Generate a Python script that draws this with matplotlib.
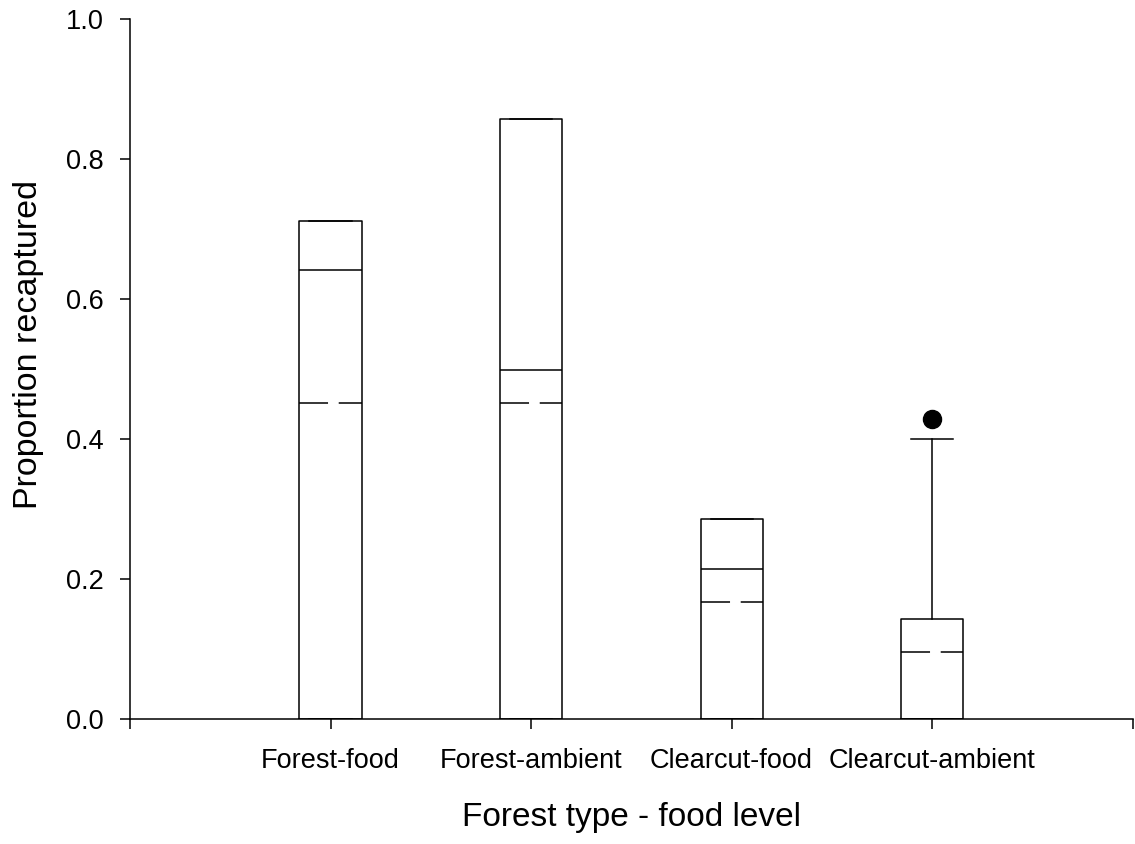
import matplotlib
matplotlib.use('Agg')
import matplotlib.pyplot as plt

plt.rcParams['font.family'] = ['Liberation Sans', 'DejaVu Sans']

groups = ['Forest-food', 'Forest-ambient', 'Clearcut-food', 'Clearcut-ambient']
q1 = [0.0, 0.0, 0.0, 0.0]
q3 = [0.712, 0.857, 0.286, 0.143]
medians = [0.642, 0.498, 0.214, 0.0]
means = [0.452, 0.452, 0.167, 0.096]
whisk_lo = [0.0, 0.0, 0.0, 0.0]
whisk_hi = [0.712, 0.857, 0.286, 0.40]
outliers = [[], [], [], [0.428]]

stats = []
for i, g in enumerate(groups):
    stats.append(dict(label=g, q1=q1[i], q3=q3[i], med=medians[i], mean=means[i],
                      whislo=whisk_lo[i], whishi=whisk_hi[i], fliers=outliers[i]))

fig = plt.figure(figsize=(11.35, 8.44), dpi=100)
ax = fig.add_axes([0.1145, 0.148, 0.8835, 0.8295])

lw = 1.1
ax.bxp(stats, positions=[1, 2, 3, 4], widths=0.31, capwidths=0.21,
       showmeans=True, meanline=True, showfliers=True,
       boxprops=dict(color='black', linewidth=lw),
       medianprops=dict(color='black', linewidth=lw),
       meanprops=dict(color='black', linewidth=lw, linestyle=(0, (19, 7))),
       whiskerprops=dict(color='black', linewidth=lw),
       capprops=dict(color='black', linewidth=lw),
       flierprops=dict(marker='o', markerfacecolor='black', markeredgecolor='black',
                       markersize=13))

ax.set_xlim(0, 5)
ax.set_ylim(0, 1.0)
ax.set_xticks([0, 1, 2, 3, 4, 5])
ax.set_xticklabels([''] + groups + [''])
ax.set_yticks([0.0, 0.2, 0.4, 0.6, 0.8, 1.0])
ax.set_yticklabels(['0.0', '0.2', '0.4', '0.6', '0.8', '1.0'])

for s in ['top', 'right']:
    ax.spines[s].set_visible(False)
for s in ['left', 'bottom']:
    ax.spines[s].set_linewidth(lw)
ax.spines['bottom'].set_position(('data', 0))

ax.tick_params(axis='x', direction='out', length=7, width=lw, labelsize=19.5, pad=14)
ax.tick_params(axis='y', direction='out', length=7, width=lw, labelsize=19.5, pad=12)

ax.set_xlabel('Forest type - food level', fontsize=24, labelpad=20)
ax.set_ylabel('Proportion recaptured', fontsize=24.5)
ax.yaxis.set_label_coords(-0.086, 0.535)

fig.savefig('out.png', dpi=100)
